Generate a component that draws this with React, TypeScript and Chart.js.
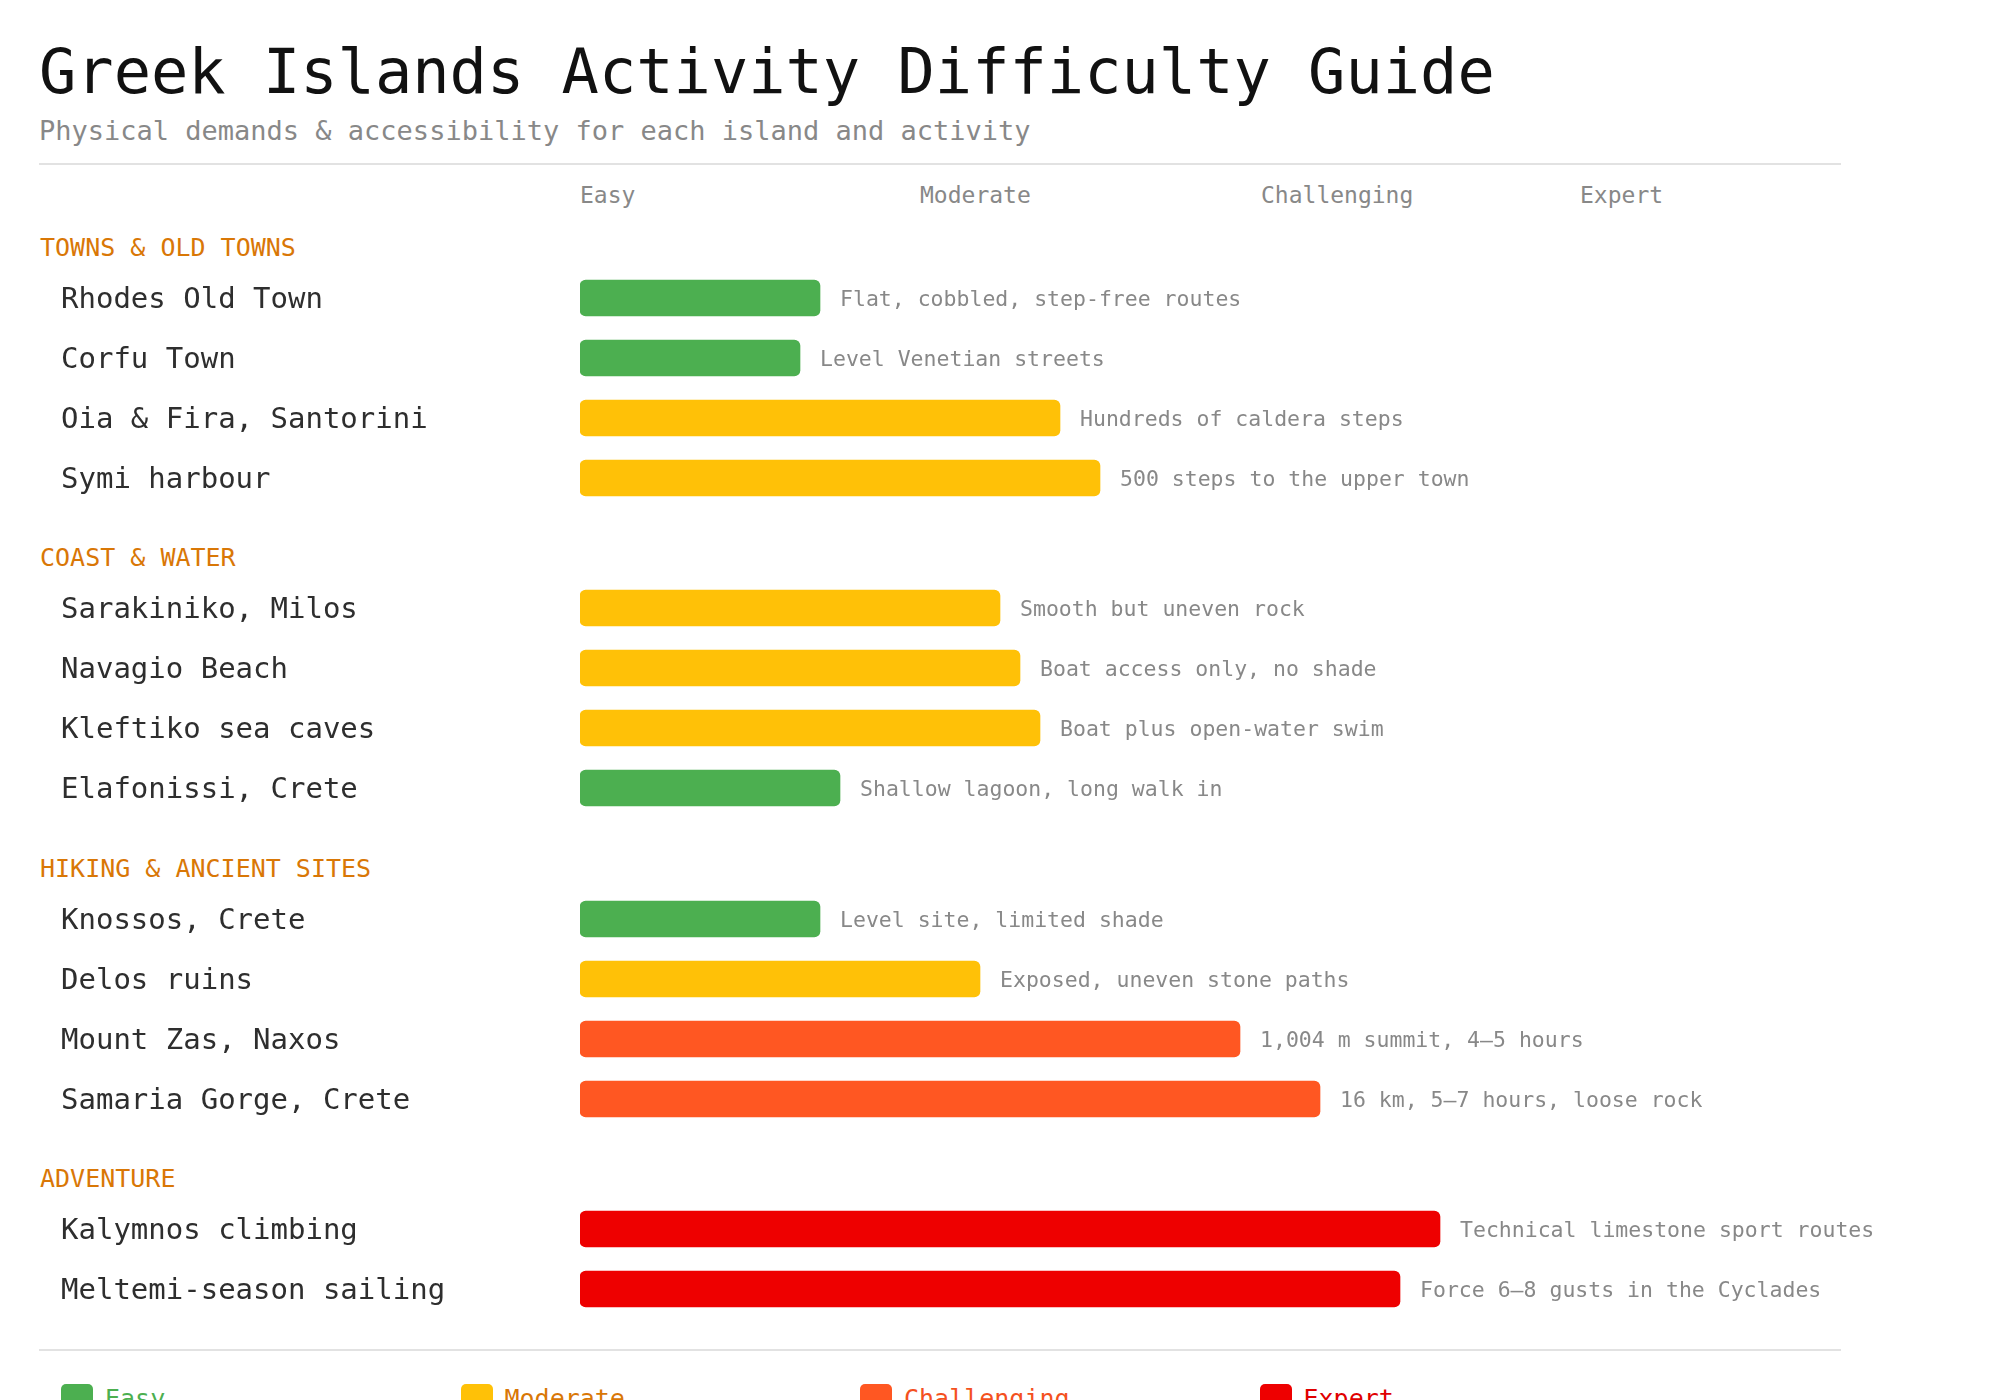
import React, { useEffect, useRef } from "react";
import { Chart, registerables } from "chart.js";

Chart.register(...registerables);

// ---------- data ----------
const LEVELS = ["Easy", "Moderate", "Challenging", "Expert"];
const LEVEL_COLORS = ["#4CAF50", "#FFC107", "#FF5722", "#EE0000"];
const LEVEL_TEXT_COLORS = ["#4CAF50", "#D97706", "#F4511E", "#E00000"];
const LEVEL_HEADER_POS = [0, 3.4, 6.81, 10]; // where each column heading sits on the 0-10 scale

const GROUP_TITLES = ["TOWNS & OLD TOWNS", "COAST & WATER", "HIKING & ANCIENT SITES", "ADVENTURE"];

const townsActivities = ["Rhodes Old Town", "Corfu Town", "Oia & Fira, Santorini", "Symi harbour"];
const townsScores = [2.4, 2.2, 4.8, 5.2];
const townsLevels = [0, 0, 1, 1];
const townsNotes = ["Flat, cobbled, step-free routes", "Level Venetian streets", "Hundreds of caldera steps", "500 steps to the upper town"];

const coastActivities = ["Sarakiniko, Milos", "Navagio Beach", "Kleftiko sea caves", "Elafonissi, Crete"];
const coastScores = [4.2, 4.4, 4.6, 2.6];
const coastLevels = [1, 1, 1, 0];
const coastNotes = ["Smooth but uneven rock", "Boat access only, no shade", "Boat plus open-water swim", "Shallow lagoon, long walk in"];

const hikingActivities = ["Knossos, Crete", "Delos ruins", "Mount Zas, Naxos", "Samaria Gorge, Crete"];
const hikingScores = [2.4, 4.0, 6.6, 7.4];
const hikingLevels = [0, 1, 2, 2];
const hikingNotes = ["Level site, limited shade", "Exposed, uneven stone paths", "1,004 m summit, 4–5 hours", "16 km, 5–7 hours, loose rock"];

const adventureActivities = ["Kalymnos climbing", "Meltemi-season sailing"];
const adventureScores = [8.6, 8.2];
const adventureLevels = [3, 3];
const adventureNotes = ["Technical limestone sport routes", "Force 6–8 gusts in the Cyclades"];

const GROUP_ACTIVITIES = [townsActivities, coastActivities, hikingActivities, adventureActivities];
const GROUP_SCORES = [townsScores, coastScores, hikingScores, adventureScores];
const GROUP_LEVELS = [townsLevels, coastLevels, hikingLevels, adventureLevels];
const GROUP_NOTES = [townsNotes, coastNotes, hikingNotes, adventureNotes];

// ---------- layout constants ----------
const FONT = "'DejaVu Sans Mono', monospace";
const PAGE_W = 2000;
const TRACK_LEFT = 580;
const TRACK_RIGHT = 1580;
const SCALE_MAX = 10;
const ROW_H = 60;
const LABEL_X = 61;

// top for an HTML line whose baseline should be at y (DejaVu metrics, line-height = size)
const topFor = (baseline: number, size: number) => baseline - 0.846 * size;

const rowPlugin = {
  id: "rowText",
  afterDatasetsDraw(chart: any) {
    const ctx = chart.ctx;
    const meta = chart.getDatasetMeta(0);
    const labels = chart.data.labels as string[];
    const notes = (chart.options.plugins as any).rowText.notes as string[];
    ctx.save();
    meta.data.forEach((bar: any, i: number) => {
      const y = bar.y;
      ctx.textAlign = "left";
      ctx.textBaseline = "alphabetic";
      ctx.font = `29px ${FONT}`;
      ctx.fillStyle = "#2e2e2e";
      ctx.fillText(labels[i], LABEL_X, y + 9.5);
      ctx.font = `21.5px ${FONT}`;
      ctx.fillStyle = "#888888";
      ctx.fillText(notes[i], bar.x + 20, y + 8);
    });
    ctx.restore();
  },
};

function GroupChart({ idx, top }: { idx: number; top: number }) {
  const ref = useRef<HTMLCanvasElement | null>(null);
  const n = GROUP_ACTIVITIES[idx].length;
  useEffect(() => {
    if (!ref.current) return;
    const chart = new Chart(ref.current, {
      type: "bar",
      data: {
        labels: GROUP_ACTIVITIES[idx],
        datasets: [
          {
            data: GROUP_SCORES[idx],
            backgroundColor: GROUP_LEVELS[idx].map((l) => LEVEL_COLORS[l]),
            borderRadius: 6,
            borderSkipped: false,
            barThickness: 36,
          },
        ],
      },
      options: {
        indexAxis: "y",
        animation: false,
        responsive: false,
        maintainAspectRatio: false,
        events: [],
        layout: { padding: { left: TRACK_LEFT, right: PAGE_W - TRACK_RIGHT, top: 0, bottom: 0 } },
        scales: {
          x: { min: 0, max: SCALE_MAX, display: false },
          y: { display: false },
        },
        plugins: {
          legend: { display: false },
          tooltip: { enabled: false },
          rowText: { notes: GROUP_NOTES[idx] },
        } as any,
      },
      plugins: [rowPlugin],
    });
    return () => chart.destroy();
  }, [idx]);
  return (
    <canvas
      ref={ref}
      width={PAGE_W}
      height={n * ROW_H}
      style={{ position: "absolute", left: 0, top, width: PAGE_W, height: n * ROW_H, display: "block" }}
    />
  );
}

export default function App() {
  // compute group positions
  const groups: { headerBaseline: number; rowsTop: number }[] = [];
  let baseline = 256;
  for (let g = 0; g < GROUP_TITLES.length; g++) {
    const rowsTop = baseline + 11.5;
    groups.push({ headerBaseline: baseline, rowsTop });
    baseline = rowsTop + GROUP_ACTIVITIES[g].length * ROW_H + 59;
  }
  const lastRowsEnd = groups[groups.length - 1].rowsTop + GROUP_ACTIVITIES[GROUP_ACTIVITIES.length - 1].length * ROW_H;
  const sepY = lastRowsEnd + 31;
  const legendTop = sepY + 34;

  const text = (s: string, left: number, base: number, size: number, color: string, key?: any) => (
    <div
      key={key}
      style={{
        position: "absolute",
        left,
        top: topFor(base, size),
        fontFamily: FONT,
        fontSize: size,
        lineHeight: `${size}px`,
        color,
        whiteSpace: "pre",
      }}
    >
      {s}
    </div>
  );

  return (
    <div style={{ position: "absolute", left: 0, top: 0, width: PAGE_W, height: 1460, background: "#ffffff", overflow: "hidden" }}>
      {text("Greek Islands Activity Difficulty Guide", 39, 93, 62, "#111111")}
      {text("Physical demands & accessibility for each island and activity", 39, 140, 27, "#888888")}
      <div style={{ position: "absolute", left: 39, top: 163, width: 1802, height: 2, background: "#e2e2e2" }} />
      {LEVELS.map((l, i) =>
        text(l, TRACK_LEFT + (LEVEL_HEADER_POS[i] / SCALE_MAX) * (TRACK_RIGHT - TRACK_LEFT), 203, 23, "#888888", "h" + i)
      )}
      {GROUP_TITLES.map((t, g) => text(t, 40, groups[g].headerBaseline, 25, "#D97706", "g" + g))}
      {GROUP_TITLES.map((_, g) => (
        <GroupChart key={"c" + g} idx={g} top={groups[g].rowsTop} />
      ))}
      <div style={{ position: "absolute", left: 39, top: sepY - 1, width: 1802, height: 2, background: "#e2e2e2" }} />
      {LEVELS.map((l, i) => (
        <React.Fragment key={"l" + i}>
          <div
            style={{
              position: "absolute",
              left: 61 + i * 399.5,
              top: legendTop,
              width: 32,
              height: 32,
              borderRadius: 5,
              background: LEVEL_COLORS[i],
            }}
          />
          {text(l, 61 + i * 399.5 + 44, legendTop + 23, 25, LEVEL_TEXT_COLORS[i])}
        </React.Fragment>
      ))}
    </div>
  );
}
